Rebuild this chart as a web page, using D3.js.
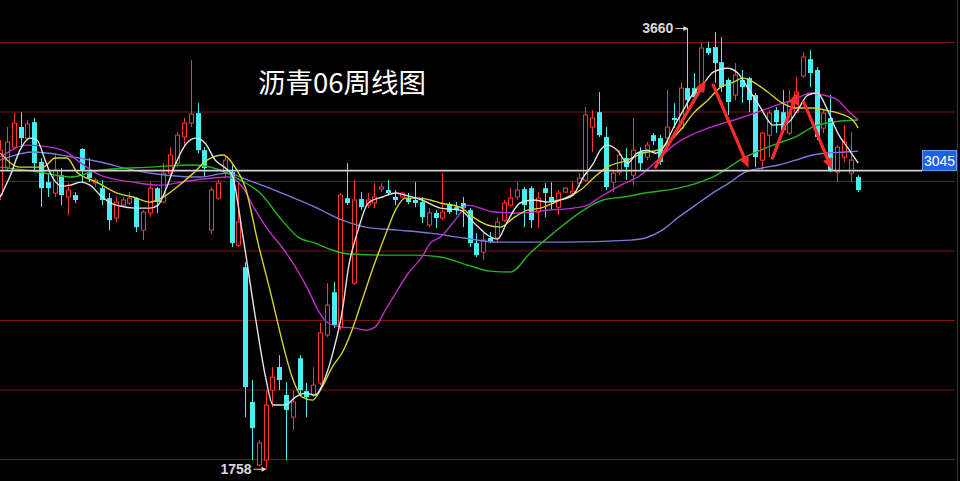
<!DOCTYPE html>
<html><head><meta charset="utf-8">
<script src="https://cdn.jsdelivr.net/npm/d3@7"></script>
<style>html,body{margin:0;padding:0;background:#000;overflow:hidden}</style>
</head><body><svg id="c" width="960" height="481"></svg>
<script>
// ---- data (weekly candles) ----
const opens=[2939,3060,3146,3233,3185,3254,3082,2995,2948,3025,2931,2939,3138,3038,2991,2969,2926,2840,2896,2905,2926,2788,2862,2969,2909,3034,3077,3190,3250,3293,3133,2788,2926,3038,3038,2723,2628,2046,1774,1795,2097,2197,2076,1981,2235,2093,2076,2128,2335,2520,2369,2926,2559,2922,2896,2905,2965,2961,2931,2931,2926,2918,2909,2810,2862,2840,2900,2887,2905,2874,2732,2693,2754,2754,2831,2896,2931,2965,2969,2866,2969,2931,2887,2952,2948,2991,3004,3233,3297,3190,2995,3038,3099,3025,3125,3103,3198,3185,3185,3272,3228,3401,3401,3392,3574,3578,3513,3436,3371,3436,3444,3371,3090,3198,3306,3297,3207,3297,3453,3526,3479,3228,3272,3038,3103,3034,3017];
const highs=[3177,3233,3293,3297,3263,3272,3099,3034,3120,3056,2991,2952,3142,3099,3013,3004,2948,2931,2931,2952,2931,2874,2995,2974,3077,3146,3211,3272,3522,3336,3146,2974,3004,3112,3069,2991,2650,2141,1881,2097,2197,2248,2132,2097,2248,2128,2197,2387,2559,2564,2948,3077,3004,2952,2948,2991,2991,3004,2961,2952,2948,2995,2931,2883,2874,3034,2909,2909,2931,2883,2775,2775,2780,2844,2918,2969,2995,2974,2978,2952,2991,2995,2961,2974,2995,3034,3319,3306,3384,3233,3047,3133,3142,3272,3146,3168,3207,3198,3392,3336,3427,3660,3466,3595,3600,3643,3621,3444,3509,3479,3449,3380,3211,3306,3319,3392,3392,3449,3557,3565,3492,3302,3371,3155,3241,3211,3025];
const lows=[2918,3047,3133,3146,3177,3047,2887,2931,2931,2896,2853,2905,2995,2995,2974,2896,2788,2823,2887,2896,2780,2745,2844,2862,2905,3017,3060,3146,3233,3120,3017,2771,2918,3013,2715,2715,1981,1795,1769,1758,2024,2097,1795,1925,2076,1981,2067,2119,2326,2365,2356,2896,2551,2874,2883,2883,2952,2939,2896,2926,2900,2887,2818,2801,2797,2831,2857,2853,2801,2715,2672,2659,2732,2736,2823,2887,2918,2801,2797,2797,2844,2874,2853,2948,2939,2974,2995,3125,3190,2961,2952,3025,3004,2982,3047,3090,3155,3069,3168,3228,3220,3306,3349,3384,3544,3423,3384,3285,3349,3336,3297,3060,3047,3103,3207,3207,3198,3293,3444,3405,3177,3207,3038,2995,3082,2995,2952];
const closes=[3133,3168,3250,3185,3246,3077,2969,2969,3047,2939,2961,2918,3047,3013,3004,2918,2831,2909,2918,2926,2801,2866,2969,2909,3034,3112,3198,3250,3289,3133,3056,2961,2991,3090,2732,2823,2110,1933,1869,2033,2153,2141,2011,2046,2097,2067,2119,2344,2464,2378,2939,2905,2918,2887,2918,2931,2974,2948,2918,2948,2909,2905,2844,2862,2840,2866,2866,2874,2883,2732,2680,2745,2736,2823,2905,2926,2961,2896,2831,2926,2948,2909,2948,2969,2956,3013,3285,3272,3198,2974,3034,3112,3060,3133,3077,3155,3172,3082,3233,3263,3401,3349,3362,3574,3552,3509,3405,3341,3457,3405,3349,3103,3207,3293,3254,3220,3341,3384,3535,3466,3190,3293,3047,3146,3168,3090,2961];

// moving-average lines: [candle index, price]
const ma5=[[0,2931],[1.5,3025],[2.9,3133],[4.4,3185],[5.4,3177],[6.6,3090],[7.3,3038],[9.1,2978],[10.3,2982],[11.8,2995],[13.2,2982],[14.7,2939],[16.2,2905],[17.6,2892],[19.8,2883],[22,2883],[23.2,2896],[24.3,2961],[25.7,3069],[27.2,3155],[28.7,3185],[30.1,3164],[31.6,3090],[33.1,3056],[34.1,3025],[35.6,2775],[37.5,2413],[39,2154],[40.1,2033],[41.9,2033],[43.4,2067],[44.8,2084],[46.3,2076],[47.8,2154],[49,2270],[50.3,2443],[51.2,2628],[52.6,2788],[54.1,2905],[56.2,2931],[58.1,2948],[59.5,2939],[62,2918],[64.7,2883],[67.6,2874],[69.5,2823],[71.6,2767],[73.1,2749],[74.5,2823],[76.4,2905],[78.4,2918],[80.4,2909],[82.3,2918],[84.2,2939],[85.7,3017],[87.2,3077],[88.2,3133],[89.2,3155],[90.7,3133],[92.2,3077],[93.6,3120],[95.1,3133],[96.3,3120],[97.5,3146],[99,3233],[100.4,3306],[101.9,3380],[103.4,3423],[104.8,3470],[106.9,3487],[108.4,3466],[109.8,3405],[111.7,3319],[113.6,3241],[115.7,3250],[117.2,3306],[118.7,3371],[120.1,3380],[121.6,3306],[123.1,3207],[124.5,3146],[126.1,3077]];
const ma10=[[0,3121],[2.9,3060],[6.3,3060],[8.1,3099],[9.8,3099],[11.3,3038],[14.2,2995],[17.2,2948],[19.5,2931],[22,2909],[24,2931],[26,2974],[28.4,3034],[30.4,3090],[32.8,3112],[34.5,3060],[36,2974],[37.9,2732],[40,2486],[41.4,2313],[42.9,2154],[44.4,2067],[45.9,2054],[47.3,2110],[48.8,2197],[50.3,2261],[51.7,2356],[53.2,2486],[55.1,2650],[56.6,2766],[58.1,2874],[59.5,2926],[61.4,2926],[63.2,2918],[64.7,2905],[67.6,2887],[69.5,2844],[71.6,2810],[73.5,2801],[75.4,2840],[77.5,2874],[79.4,2883],[81.3,2905],[83.4,2931],[85.3,2961],[87.2,3013],[89.2,3060],[92.2,3090],[94.5,3121],[96.6,3133],[98.1,3164],[100,3220],[101.9,3293],[104,3349],[105.9,3405],[107.8,3427],[109.2,3444],[110.7,3427],[112.8,3384],[114.7,3341],[116.9,3315],[119.4,3315],[121.3,3306],[123.2,3293],[125.3,3263],[126.1,3228]];
const ma20=[[0,3103],[4,3155],[7.3,3146],[9.8,3125],[11.3,3090],[14.7,3025],[19.5,2995],[23.5,2982],[27.5,3000],[31.3,3013],[33.5,3017],[35.6,2974],[37.5,2874],[39.4,2788],[41.4,2715],[43.4,2628],[45.3,2529],[46.7,2443],[48.2,2387],[50.3,2369],[52.2,2365],[53.7,2356],[55.1,2369],[56.6,2443],[58.4,2529],[60,2603],[62,2672],[63.2,2732],[64.7,2758],[67.2,2844],[68.7,2896],[70.6,2883],[72.5,2866],[76.4,2862],[80.4,2874],[84.2,2883],[86.3,2896],[88.2,2931],[91.2,2982],[94.1,3025],[96.6,3090],[99,3155],[101.5,3198],[104,3228],[106.3,3250],[108.8,3272],[111.3,3297],[113.7,3323],[117.2,3358],[119.1,3380],[121,3371],[123.1,3349],[124.5,3306],[126.1,3263]];
const ma40=[[0,3060],[5.9,3038],[10.3,3017],[14.7,3047],[22,3060],[28.4,3069],[33.4,3034],[35.3,3004],[38.2,2948],[41.4,2831],[43.8,2758],[46.3,2732],[48.8,2702],[51.2,2685],[56.2,2680],[61,2680],[64.7,2672],[68.7,2637],[72,2611],[75,2607],[77.9,2689],[81.3,2775],[85.3,2866],[88.6,2918],[91.6,2931],[94.8,2948],[99.7,2969],[104.7,3017],[109.5,3103],[114.4,3164],[116.9,3190],[119.4,3233],[122.3,3254],[126.1,3263]];
const ma60=[[0,3090],[4.8,3125],[9.8,3108],[14.7,3082],[19.5,3047],[24.5,3025],[29.4,3017],[33.4,3034],[36.4,3004],[41.4,2948],[46.3,2887],[50.3,2831],[53.7,2801],[58.5,2788],[63.2,2775],[68.1,2754],[73.1,2736],[82.8,2736],[92.6,2745],[94.8,2754],[97.3,2788],[99.7,2844],[102.2,2896],[104.7,2948],[107.1,2991],[109.5,3038],[112,3056],[114.4,3069],[116.9,3090],[119.4,3112],[121.7,3121],[124.2,3125],[126.1,3129]];

const gridTicks=[1800,2100,2400,2700,3000,3300,3600];
const titleText="沥青06周线图";
const levelValue=3045;
const highMark={i:101,v:3660};
const lowMark={i:39,v:1758};
// trend arrows: [startIndex, startPrice, endIndex, endPrice]
const trendArrows=[[96.3,3060,103.7,3436],[104.8,3414,110,3056],[113.5,3099,117.2,3384],[118.1,3341,122.3,3047]];

// ---- drawing ----
const W=960,H=481;
const x=d3.scaleLinear().domain([0,opens.length-1]).range([0.2,857.5]);
const y=d3.scaleLinear().domain([1800,3600]).range([459,42]);
const svg=d3.select('#c');
svg.append('rect').attr('width',W).attr('height',H).attr('fill','#000');

const grid=svg.append('g').attr('transform','translate(955,0)')
  .call(d3.axisLeft(y).tickValues(gridTicks).tickSize(955).tickFormat(''));
grid.select('.domain').remove();
grid.selectAll('line').attr('stroke','#7a1616').attr('stroke-width',1);
grid.selectAll('text').remove();
svg.append('line').attr('x1',957.5).attr('x2',957.5).attr('y1',0).attr('y2',H)
  .attr('stroke','#7a1616').attr('stroke-width',1);

const RED='#ff3434', CYAN='#48eef4';
const data=opens.map((o,i)=>({i,o,h:highs[i],l:lows[i],c:closes[i]}));
const gc=svg.append('g');
data.forEach(d=>{
  const up=d.c>=d.o;
  const cx=Math.round(x(d.i))+0.5;
  const top=y(Math.max(d.o,d.c)), bot=y(Math.min(d.o,d.c));
  if(up){
    gc.append('line').attr('x1',cx).attr('x2',cx).attr('y1',y(d.h)).attr('y2',top).attr('stroke',RED);
    gc.append('line').attr('x1',cx).attr('x2',cx).attr('y1',bot).attr('y2',y(d.l)).attr('stroke',RED);
    gc.append('rect').attr('x',cx-2).attr('y',top).attr('width',4).attr('height',Math.max(1,bot-top))
      .attr('fill','#000').attr('stroke',RED).attr('stroke-width',1);
  } else {
    gc.append('line').attr('x1',cx).attr('x2',cx).attr('y1',y(d.h)).attr('y2',y(d.l)).attr('stroke',CYAN);
    gc.append('rect').attr('x',cx-2.5).attr('y',top).attr('width',5).attr('height',Math.max(1.5,bot-top))
      .attr('fill',CYAN);
  }
});

const line=d3.line().x(d=>x(d[0])).y(d=>y(d[1])).curve(d3.curveMonotoneX);
[[ma60,'#7c78d8'],[ma40,'#22b322'],[ma20,'#c22cc6'],[ma10,'#d4d42c'],[ma5,'#e4e4e4']].forEach(([s,c])=>{
  svg.append('path').attr('d',line(s)).attr('fill','none').attr('stroke',c).attr('stroke-width',1.4);
});

// level line + price tag
const ly=y(levelValue);
svg.append('line').attr('x1',0).attr('x2',922).attr('y1',ly).attr('y2',ly).attr('stroke','#d2d2d2').attr('stroke-width',1.6);
svg.append('rect').attr('x',922.5).attr('y',ly-20).attr('width',34).attr('height',20)
  .attr('fill','#1d62e2').attr('stroke','#6d9cff').attr('stroke-width',1);
svg.append('text').attr('x',939.5).attr('y',ly-5).attr('text-anchor','middle')
  .attr('font-family','Liberation Sans, Arial, sans-serif').attr('font-size',14).attr('fill','#fff').text(String(levelValue));

// trend arrows
const ga=svg.append('g');
trendArrows.forEach(a=>{
  const x1=x(a[0]),y1=y(a[1]),x2=x(a[2]),y2=y(a[3]);
  const dx=x2-x1,dy=y2-y1,len=Math.hypot(dx,dy),ux=dx/len,uy=dy/len;
  const hl=12,hw=5;
  const bx=x2-ux*hl,by=y2-uy*hl;
  ga.append('line').attr('x1',x1).attr('y1',y1).attr('x2',bx).attr('y2',by)
    .attr('stroke','#ff2b2b').attr('stroke-width',3.2).attr('stroke-linecap','round');
  ga.append('path').attr('d',`M${x2},${y2}L${bx-uy*hw},${by+ux*hw}L${bx+uy*hw},${by-ux*hw}Z`).attr('fill','#ff2b2b');
});

// extreme labels
function mark(m){
  const mx=x(m.i), my=y(m.v);
  svg.append('text').attr('x',mx-14).attr('y',my+5).attr('text-anchor','end')
    .attr('font-family','Liberation Sans, Arial, sans-serif').attr('font-weight','bold')
    .attr('font-size',14).attr('fill','#d8d8d8').text(String(m.v));
  svg.append('line').attr('x1',mx-12).attr('x2',mx).attr('y1',my+0.5).attr('y2',my+0.5).attr('stroke','#d8d8d8').attr('stroke-width',1);
  svg.append('path').attr('d',`M${mx+1},${my+0.5}L${mx-4},${my-2}L${mx-4},${my+3}Z`).attr('fill','#d8d8d8');
}
mark(highMark); mark(lowMark);

// title
svg.append('text').attr('x',258).attr('y',93).attr('font-family','Noto Sans CJK SC, sans-serif')
  .attr('font-size',27.5).attr('fill','#fff').text(titleText);
</script></body></html>
